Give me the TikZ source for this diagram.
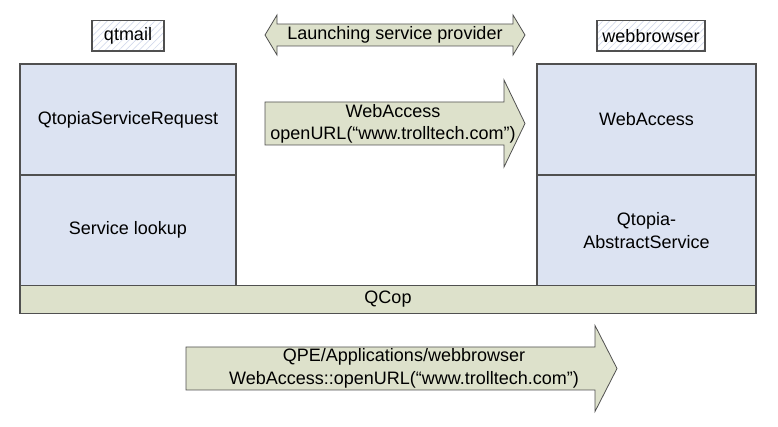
\documentclass[tikz,border=0pt]{standalone}
\usepackage{fontspec}
\setmainfont{Liberation Sans}
\usetikzlibrary{patterns.meta}
\definecolor{boxblue}{HTML}{DCE3F2}
\definecolor{arrgreen}{HTML}{DDE1CB}
\definecolor{edgegray}{HTML}{505050}
\definecolor{hatchblue}{HTML}{D3DAEC}
\begin{document}
\begin{tikzpicture}[x=0.75pt,y=-0.75pt,
  font=\fontsize{13.5}{17}\selectfont,
  blk/.style={draw=edgegray, line width=0.8pt, fill=boxblue, inner sep=0pt, outer sep=0pt, anchor=north west, align=center},
  bar/.style={draw=edgegray, line width=0.8pt, fill=arrgreen, inner sep=0pt, outer sep=0pt, anchor=north west, align=center},
  tag/.style={draw=edgegray, line width=0.8pt, pattern={Lines[angle=45,distance=3.6pt,line width=0.5pt]}, pattern color=hatchblue, inner sep=0pt, outer sep=0pt, anchor=north west},
  blockarrow/.style={draw=edgegray, line width=0.6pt, fill=arrgreen, line join=miter},
  lbl/.style={align=center, inner sep=0pt}
]
\useasboundingbox (0,0) rectangle (778,427);

% tags
\node[tag, minimum width=72*0.75pt, minimum height=30.5*0.75pt] (qtmail) at (92,20.5) {qtmail};
\node[tag, minimum width=108*0.75pt, minimum height=30.5*0.75pt] (webbrowser) at (597,20.5) {webbrowser};

% left stack
\node[blk, minimum width=216*0.75pt, minimum height=111*0.75pt] (qsr) at (20,64) {QtopiaServiceRequest};
\node[blk, minimum width=216*0.75pt, minimum height=110.5*0.75pt] (lookup) at (20,175) {Service lookup};

% right stack
\node[blk, minimum width=219*0.75pt, minimum height=111*0.75pt] (webaccess) at (537,64) {WebAccess};
\node[blk, minimum width=219*0.75pt, minimum height=110.5*0.75pt] (abstract) at (537,175) {Qtopia-\\AbstractService};

% QCop bar
\node[bar, minimum width=736*0.75pt, minimum height=28*0.75pt] (qcop) at (20,285.5) {QCop};

% double arrow
\draw[blockarrow] (265,35) -- (277,15) -- (277,24) -- (513,24) -- (513,15) -- (525,35)
  -- (513,55) -- (513,46) -- (277,46) -- (277,55) -- cycle;
\node[lbl] (launch) at (395,35) {Launching service provider};

% WebAccess call arrow
\draw[blockarrow] (265,102) -- (504,102) -- (504,80) -- (525,123.5) -- (504,167)
  -- (504,145) -- (265,145) -- cycle;
\node[lbl] (call) at (393,124) {WebAccess\\openURL(“www.trolltech.com”)};

% bottom QCop message arrow
\draw[blockarrow] (186,347) -- (595,347) -- (595,325.5) -- (617,368.5) -- (595,411.5)
  -- (595,390) -- (186,390) -- cycle;
\node[lbl] (msg) at (404,368.5) {QPE/Applications/webbrowser\\WebAccess::openURL(“www.trolltech.com”)};
\end{tikzpicture}
\end{document}
